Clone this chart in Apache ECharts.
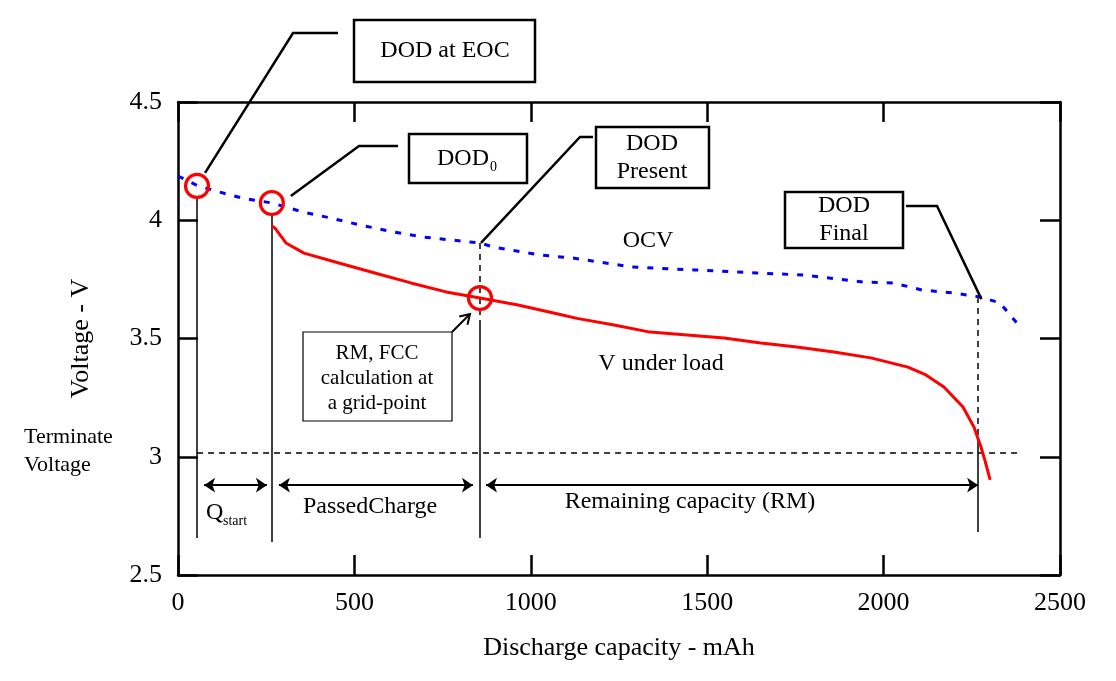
<!DOCTYPE html>
<html><head><meta charset="utf-8">
<script src="https://cdn.jsdelivr.net/npm/echarts@6/dist/echarts.min.js"></script>
<style>html,body{margin:0;padding:0;background:#fff}#c{width:1116px;height:681px}</style>
</head><body><div id="c"></div>
<script>
// ---------- data ----------
const xTicks = [0, 500, 1000, 1500, 2000, 2500];
const yTicks = [2.5, 3, 3.5, 4, 4.5];
const ocvCap = [0, 57, 128, 181, 266, 354, 431, 516, 609, 694, 777, 856, 893, 1026, 1120, 1287, 1463, 1641, 1777, 1942, 2027, 2109, 2202, 2276, 2330, 2390];
const ocvV   = [4.187, 4.145, 4.115, 4.094, 4.073, 4.035, 4.010, 3.980, 3.951, 3.929, 3.916, 3.904, 3.887, 3.853, 3.840, 3.802, 3.790, 3.777, 3.768, 3.739, 3.735, 3.705, 3.692, 3.675, 3.650, 3.544];
const loadCap = [266, 275, 306, 357, 456, 558, 660, 760, 856, 964, 1074, 1131, 1236, 1338, 1443, 1548, 1652, 1754, 1859, 1964, 2069, 2120, 2171, 2225, 2256, 2276, 2287, 2302];
const loadV   = [3.975, 3.967, 3.904, 3.861, 3.819, 3.777, 3.735, 3.697, 3.671, 3.642, 3.605, 3.585, 3.557, 3.527, 3.515, 3.502, 3.481, 3.464, 3.443, 3.418, 3.379, 3.346, 3.295, 3.210, 3.126, 3.041, 2.986, 2.902];
// key points
const eocCap = 54, eocV = 4.145;
const dod0Cap = 266, dod0V = 4.073;
const presentCap = 856, presentOcvV = 3.904, presentLoadV = 3.671;
const finalCap = 2266, finalOcvV = 3.675;
const terminateV = 3.015, terminateEndCap = 2390;

// ---------- chart ----------
const FONT = "'Liberation Serif','Times New Roman',serif";
const chart = echarts.init(document.getElementById('c'));
const axisLine = {show:true, onZero:false, lineStyle:{color:'#000', width:2.5}};
const axisTick = {show:true, inside:true, length:20, lineStyle:{color:'#000', width:2.5}};
const seg = (a,b) => ({coords:[a,b]});
const option = {
  backgroundColor:'#fff',
  animation:false,
  grid:{left:178, right:56, top:102, bottom:106},
  xAxis:[
    {type:'value', min:xTicks[0], max:xTicks[xTicks.length-1], interval:500, position:'bottom',
     axisLine, axisTick, splitLine:{show:false},
     axisLabel:{color:'#000', fontFamily:FONT, fontSize:26, margin:15, formatter:v => String(v)},
     name:'Discharge capacity - mAh', nameLocation:'middle', nameGap:60,
     nameTextStyle:{color:'#000', fontFamily:FONT, fontSize:26}},
    {type:'value', min:xTicks[0], max:xTicks[xTicks.length-1], interval:500, position:'top',
     axisLine, axisTick, splitLine:{show:false}, axisLabel:{show:false}}
  ],
  yAxis:[
    {type:'value', min:yTicks[0], max:yTicks[yTicks.length-1], interval:0.5, position:'left',
     axisLine, axisTick, splitLine:{show:false},
     axisLabel:{color:'#000', fontFamily:FONT, fontSize:26, margin:16, formatter:v => String(v)},
     name:'Voltage - V', nameLocation:'middle', nameGap:84, nameRotate:90,
     nameTextStyle:{color:'#000', fontFamily:FONT, fontSize:26}},
    {type:'value', min:yTicks[0], max:yTicks[yTicks.length-1], interval:0.5, position:'right',
     axisLine, axisTick, splitLine:{show:false}, axisLabel:{show:false}}
  ],
  series:[
    {name:'OCV', type:'line', data:ocvCap.map((c,i)=>[c, ocvV[i]]), showSymbol:false,
     lineStyle:{color:'#0000ff', width:3, type:[6,9]}, z:3},
    {name:'V under load', type:'line', data:loadCap.map((c,i)=>[c, loadV[i]]), showSymbol:false,
     lineStyle:{color:'#ff0000', width:3}, z:4},
    {name:'guides', type:'lines', coordinateSystem:'cartesian2d', z:2,
     lineStyle:{color:'#000', width:1.5, opacity:1},
     data:[
       seg([eocCap, 4.098],[eocCap, 2.656]),
       seg([dod0Cap, 4.026],[dod0Cap, 2.64]),
       seg([presentCap, 3.566],[presentCap, 2.656]),
       seg([finalCap, 3.071],[finalCap, 2.682])
     ]},
    {name:'dashed', type:'lines', coordinateSystem:'cartesian2d', z:2,
     lineStyle:{color:'#000', width:1.5, type:[6,5], opacity:1},
     data:[
       seg([presentCap, presentOcvV],[presentCap, 3.566]),
       seg([finalCap, finalOcvV],[finalCap, 3.071]),
       seg([eocCap, terminateV],[terminateEndCap, terminateV])
     ]},
    {name:'arrows', type:'lines', coordinateSystem:'cartesian2d', z:2,
     symbol:['arrow','arrow'], symbolSize:11,
     lineStyle:{color:'#000', width:2, opacity:1},
     data:[
       seg([74, 2.88],[252, 2.88]),
       seg([286, 2.88],[836, 2.88]),
       seg([873, 2.88],[2268, 2.88])
     ]},
    {name:'points', type:'scatter', z:6, symbol:'circle', symbolSize:23,
     itemStyle:{color:'rgba(0,0,0,0)', borderColor:'#ff0000', borderWidth:3.2, opacity:1},
     data:[[eocCap, eocV],[dod0Cap, dod0V],[presentCap, presentLoadV]]}
  ]
};
chart.setOption(option);

// ---------- annotations (pixel layout, anchored through the chart's scales) ----------
const P = (x,y) => chart.convertToPixel({seriesIndex:0}, [x,y]);
const eoc = P(eocCap, eocV), d0 = P(dod0Cap, dod0V), pres = P(presentCap, presentOcvV), fin = P(finalCap, finalOcvV);
const txt = (text, x, y, size, align) => ({type:'text', z:100, style:{text, x, y, fill:'#000',
  font: size + 'px ' + FONT, textAlign: align || 'center', textVerticalAlign:'middle'}});
const box = (x,y,w,h,lw) => ({type:'rect', z:90, shape:{x,y,width:w,height:h},
  style:{fill:'#fff', stroke:'#000', lineWidth:lw || 2.5}});
const poly = (pts, lw) => ({type:'polyline', z:95, shape:{points:pts}, style:{stroke:'#000', lineWidth:lw || 2.5, fill:null}});

// arrow from RM box to grid point
const a0 = [452, 332], a1 = [470, 314];
const dx = a1[0]-a0[0], dy = a1[1]-a0[1], L = Math.hypot(dx,dy);
const ux = -dx/L, uy = -dy/L, hl = 11, ang = 0.55;
const h1 = [a1[0] + hl*(ux*Math.cos(ang) - uy*Math.sin(ang)), a1[1] + hl*(ux*Math.sin(ang) + uy*Math.cos(ang))];
const h2 = [a1[0] + hl*(ux*Math.cos(-ang) - uy*Math.sin(-ang)), a1[1] + hl*(ux*Math.sin(-ang) + uy*Math.cos(-ang))];

chart.setOption({graphic:[
  // DOD at EOC
  poly([[eoc[0]+8, eoc[1]-13],[293,33],[338,33]]),
  box(354,20,181,62), txt('DOD at EOC', 445, 51, 24),
  // DOD0
  poly([[d0[0]+19, d0[1]-7],[359,146],[398,146]]),
  box(409,134,118,49), txt('DOD', 437, 159, 24, 'left'), txt('0', 490, 167, 14, 'left'),
  // DOD Present
  poly([[pres[0]+1, pres[1]],[580,137],[593,137]]),
  box(596,127,113,61), txt('DOD', 652, 144, 24), txt('Present', 652, 172, 24),
  // DOD Final
  poly([[906,206],[937,206],[fin[0]+4, fin[1]+2]]),
  box(785,192,118,56), txt('DOD', 844, 206, 24), txt('Final', 844, 234, 24),
  // RM, FCC box
  box(303,332,149,89,1.2),
  txt('RM, FCC', 377, 353, 21), txt('calculation at', 377, 378, 21), txt('a grid-point', 377, 403, 21),
  poly([a0, a1], 2), poly([h1, a1, h2], 2),
  // curve labels
  txt('OCV', 648, 241, 24), txt('V under load', 661, 364, 24),
  // span labels
  txt('Q', 206, 513, 24, 'left'), txt('start', 223, 521, 14, 'left'),
  txt('PassedCharge', 370, 507, 24), txt('Remaining capacity (RM)', 690, 502, 24),
  // terminate voltage
  txt('Terminate', 24, 437, 22, 'left'), txt('Voltage', 24, 465, 22, 'left')
]});
</script></body></html>
